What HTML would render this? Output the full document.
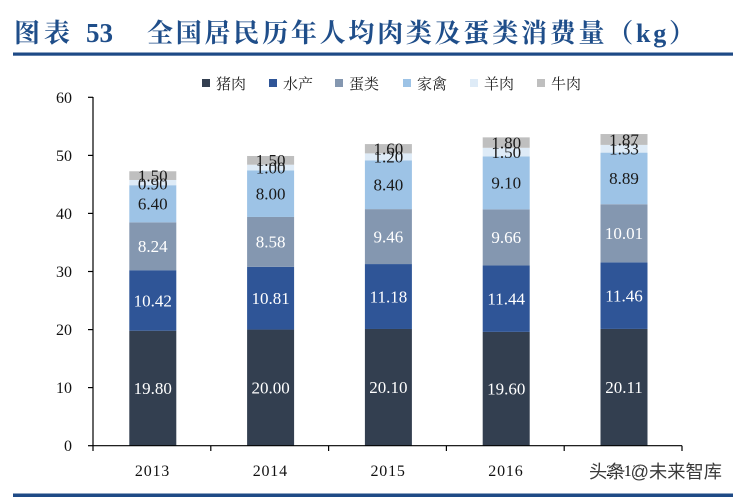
<!DOCTYPE html>
<html>
<head>
<meta charset="utf-8">
<style>
html,body{margin:0;padding:0;background:#fff;}
body{width:737px;height:499px;overflow:hidden;position:relative;}
svg{position:absolute;left:0;top:0;}
</style>
</head>
<body>
<svg width="737" height="499" viewBox="0 0 737 499" xmlns="http://www.w3.org/2000/svg">
  <!-- Title -->
  <g font-family="'Liberation Serif','Noto Serif CJK SC',serif" font-weight="bold" fill="#1f4e8a">
    <text x="14" y="42" font-size="26" letter-spacing="4">图表</text>
    <text x="86" y="42" font-size="27">53</text>
    <text x="147" y="42" font-size="26" letter-spacing="4" textLength="552" lengthAdjust="spacing">全国居民历年人均肉类及蛋类消费量（kg）</text>
  </g>
  <rect x="13" y="52.5" width="720" height="3.2" fill="#1e4a86"/>

  <!-- Legend -->
  <g font-family="'Liberation Serif','Noto Serif CJK SC',serif" font-size="15" fill="#222">
    <rect x="202" y="79" width="8" height="8" fill="#333f50"/><text x="216" y="89">猪肉</text>
    <rect x="269" y="79" width="8" height="8" fill="#2f5597"/><text x="283" y="89">水产</text>
    <rect x="335" y="79" width="8" height="8" fill="#8497b0"/><text x="349" y="89">蛋类</text>
    <rect x="403" y="79" width="8" height="8" fill="#9dc3e6"/><text x="417" y="89">家禽</text>
    <rect x="470" y="79" width="8" height="8" fill="#deebf7"/><text x="484" y="89">羊肉</text>
    <rect x="537" y="79" width="8" height="8" fill="#bfbfbf"/><text x="551" y="89">牛肉</text>
  </g>

  <!-- Bars -->
  <g>
    <rect x="129.3" y="330.72" width="47" height="114.98" fill="#333f50"/>
    <rect x="129.3" y="270.21" width="47" height="60.51" fill="#2f5597"/>
    <rect x="129.3" y="222.36" width="47" height="47.85" fill="#8497b0"/>
    <rect x="129.3" y="185.20" width="47" height="37.16" fill="#9dc3e6"/>
    <rect x="129.3" y="179.97" width="47" height="5.23" fill="#deebf7"/>
    <rect x="129.3" y="171.26" width="47" height="8.71" fill="#bfbfbf"/>
  </g>
  <g>
    <rect x="247.1" y="329.56" width="47" height="116.14" fill="#333f50"/>
    <rect x="247.1" y="266.79" width="47" height="62.77" fill="#2f5597"/>
    <rect x="247.1" y="216.96" width="47" height="49.83" fill="#8497b0"/>
    <rect x="247.1" y="170.51" width="47" height="46.45" fill="#9dc3e6"/>
    <rect x="247.1" y="164.70" width="47" height="5.81" fill="#deebf7"/>
    <rect x="247.1" y="155.99" width="47" height="8.71" fill="#bfbfbf"/>
  </g>
  <g>
    <rect x="364.9" y="328.98" width="47" height="116.72" fill="#333f50"/>
    <rect x="364.9" y="264.06" width="47" height="64.92" fill="#2f5597"/>
    <rect x="364.9" y="209.12" width="47" height="54.94" fill="#8497b0"/>
    <rect x="364.9" y="160.34" width="47" height="48.78" fill="#9dc3e6"/>
    <rect x="364.9" y="153.38" width="47" height="6.96" fill="#deebf7"/>
    <rect x="364.9" y="144.08" width="47" height="9.30" fill="#bfbfbf"/>
  </g>
  <g>
    <rect x="482.7" y="331.88" width="47" height="113.82" fill="#333f50"/>
    <rect x="482.7" y="265.45" width="47" height="66.43" fill="#2f5597"/>
    <rect x="482.7" y="209.36" width="47" height="56.09" fill="#8497b0"/>
    <rect x="482.7" y="156.51" width="47" height="52.85" fill="#9dc3e6"/>
    <rect x="482.7" y="147.80" width="47" height="8.71" fill="#deebf7"/>
    <rect x="482.7" y="137.35" width="47" height="10.45" fill="#bfbfbf"/>
  </g>
  <g>
    <rect x="600.5" y="328.92" width="47" height="116.78" fill="#333f50"/>
    <rect x="600.5" y="262.37" width="47" height="66.55" fill="#2f5597"/>
    <rect x="600.5" y="204.24" width="47" height="58.13" fill="#8497b0"/>
    <rect x="600.5" y="152.62" width="47" height="51.62" fill="#9dc3e6"/>
    <rect x="600.5" y="144.90" width="47" height="7.72" fill="#deebf7"/>
    <rect x="600.5" y="134.04" width="47" height="10.86" fill="#bfbfbf"/>
  </g>

  <!-- Data labels -->
  <g font-family="'Liberation Serif',serif" font-size="17" text-anchor="middle">
    <g fill="#ffffff">
      <text x="152.8" y="394.0">19.80</text>
      <text x="152.8" y="306.3">10.42</text>
      <text x="152.8" y="252.1">8.24</text>
      <text x="270.6" y="393.4">20.00</text>
      <text x="270.6" y="304.0">10.81</text>
      <text x="270.6" y="247.7">8.58</text>
      <text x="388.4" y="393.1">20.10</text>
      <text x="388.4" y="302.3">11.18</text>
      <text x="388.4" y="242.4">9.46</text>
      <text x="506.2" y="394.6">19.60</text>
      <text x="506.2" y="304.5">11.44</text>
      <text x="506.2" y="243.2">9.66</text>
      <text x="624" y="393.1">20.11</text>
      <text x="624" y="301.4">11.46</text>
      <text x="624" y="239.1">10.01</text>
    </g>
    <g fill="#1a1a1a">
      <text x="152.8" y="209.6">6.40</text>
      <text x="152.8" y="189.4">0.90</text>
      <text x="152.8" y="181.4">1.50</text>
      <text x="270.6" y="199.5">8.00</text>
      <text x="270.6" y="173.4">1.00</text>
      <text x="270.6" y="166.1">1.50</text>
      <text x="388.4" y="190.5">8.40</text>
      <text x="388.4" y="162.7">1.20</text>
      <text x="388.4" y="154.5">1.60</text>
      <text x="506.2" y="188.7">9.10</text>
      <text x="506.2" y="158.0">1.50</text>
      <text x="506.2" y="148.4">1.80</text>
      <text x="624" y="184.2">8.89</text>
      <text x="624" y="154.6">1.33</text>
      <text x="624" y="145.3">1.87</text>
    </g>
  </g>

  <!-- Axes -->
  <g stroke="#000" stroke-width="1.2" fill="none">
    <line x1="93" y1="97" x2="93" y2="446"/>
    <line x1="93" y1="445.7" x2="682" y2="445.7"/>
    <line x1="88" y1="445.7" x2="93" y2="445.7"/>
    <line x1="88" y1="387.6" x2="93" y2="387.6"/>
    <line x1="88" y1="329.6" x2="93" y2="329.6"/>
    <line x1="88" y1="271.5" x2="93" y2="271.5"/>
    <line x1="88" y1="213.4" x2="93" y2="213.4"/>
    <line x1="88" y1="155.4" x2="93" y2="155.4"/>
    <line x1="88" y1="97.3" x2="93" y2="97.3"/>
    <line x1="93" y1="445.7" x2="93" y2="451"/>
    <line x1="210.8" y1="445.7" x2="210.8" y2="451"/>
    <line x1="328.6" y1="445.7" x2="328.6" y2="451"/>
    <line x1="446.4" y1="445.7" x2="446.4" y2="451"/>
    <line x1="564.2" y1="445.7" x2="564.2" y2="451"/>
    <line x1="682" y1="445.7" x2="682" y2="451"/>
  </g>
  <g font-family="'Liberation Serif',serif" font-size="16" fill="#111" text-anchor="end">
    <text x="72" y="451">0</text>
    <text x="72" y="393">10</text>
    <text x="72" y="335">20</text>
    <text x="72" y="277">30</text>
    <text x="72" y="219">40</text>
    <text x="72" y="161">50</text>
    <text x="72" y="103">60</text>
  </g>
  <g font-family="'Liberation Serif',serif" font-size="16" fill="#111" text-anchor="middle" letter-spacing="0.8">
    <text x="152.5" y="476">2013</text>
    <text x="270.3" y="476">2014</text>
    <text x="388.1" y="476">2015</text>
    <text x="505.9" y="476">2016</text>
    <text x="623.7" y="476">2017</text>
  </g>

  <!-- Watermark -->
  <text x="589" y="478" font-family="'Liberation Sans','Noto Sans CJK SC',sans-serif" font-size="18" fill="#3a3a3a" stroke="#ffffff" stroke-width="1.2" paint-order="stroke" textLength="133" lengthAdjust="spacingAndGlyphs">头条 @未来智库</text>

  <!-- Bottom rule -->
  <rect x="13" y="493.5" width="720" height="3.5" fill="#1e4a86"/>
</svg>
</body>
</html>
